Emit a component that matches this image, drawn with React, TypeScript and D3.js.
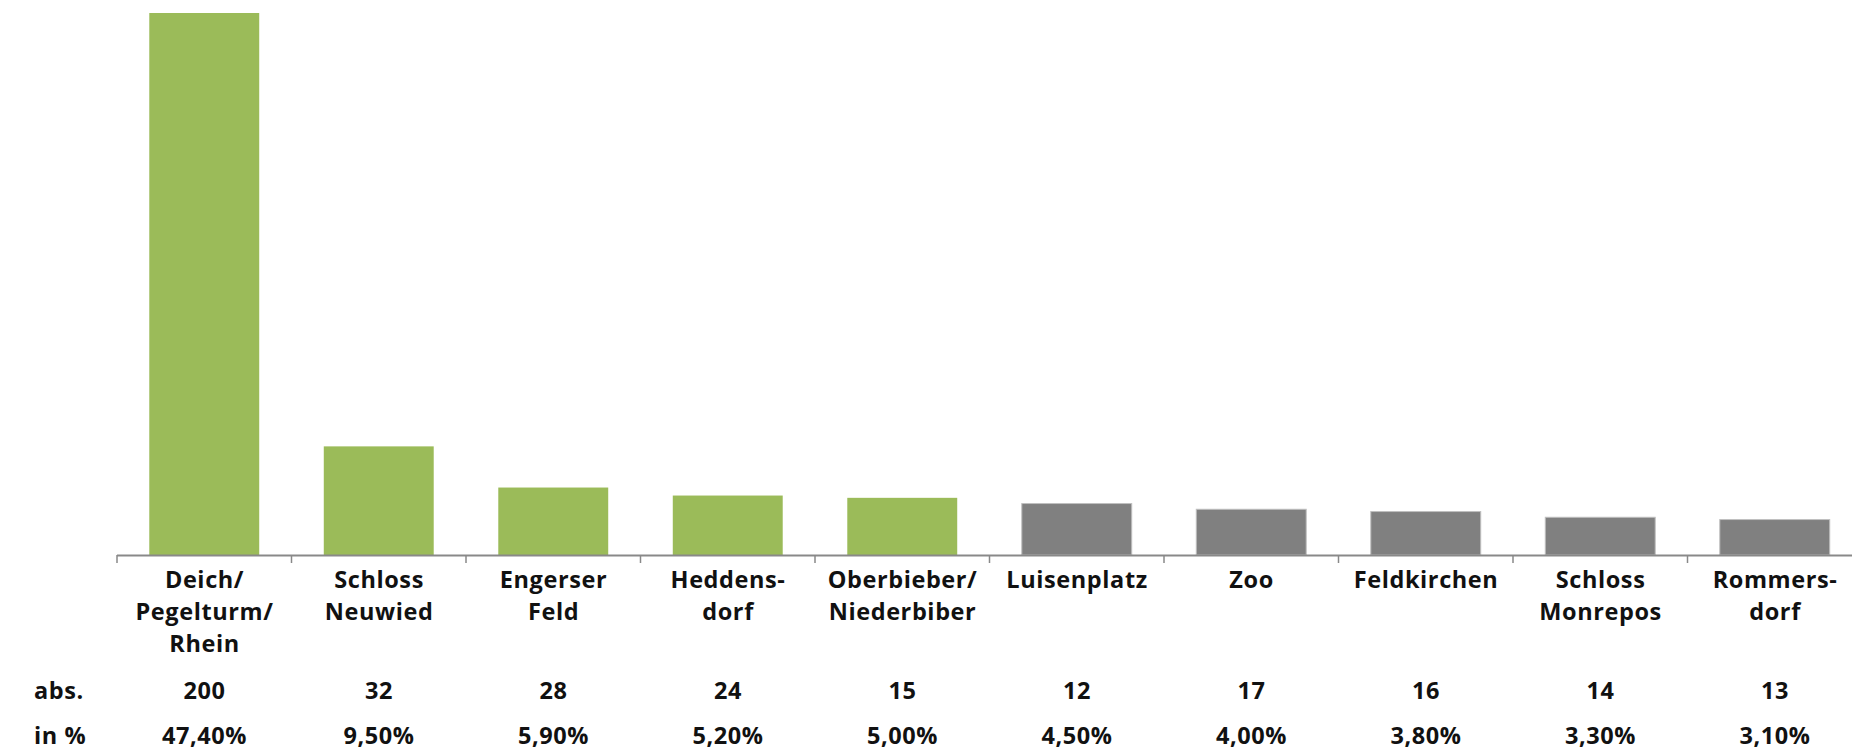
import React from "react";
import * as d3 from "d3";

const categories = [
  "Deich/ Pegelturm/ Rhein",
  "Schloss Neuwied",
  "Engerser Feld",
  "Heddensdorf",
  "Oberbieber/ Niederbiber",
  "Luisenplatz",
  "Zoo",
  "Feldkirchen",
  "Schloss Monrepos",
  "Rommersdorf",
];
const labelLines = [
  ["Deich/", "Pegelturm/", "Rhein"],
  ["Schloss", "Neuwied"],
  ["Engerser", "Feld"],
  ["Heddens-", "dorf"],
  ["Oberbieber/", "Niederbiber"],
  ["Luisenplatz"],
  ["Zoo"],
  ["Feldkirchen"],
  ["Schloss", "Monrepos"],
  ["Rommers-", "dorf"],
];
const absValues = [200, 32, 28, 24, 15, 12, 17, 16, 14, 13];
const pctValues = [47.4, 9.5, 5.9, 5.2, 5.0, 4.5, 4.0, 3.8, 3.3, 3.1];
const highlighted = [true, true, true, true, true, false, false, false, false, false];
const rowLabels = ["abs.", "in %"];

const W = 1852;
const H = 751;
const FONT = "'Open Sans', Lato, sans-serif";
const FS = 23.5;
const LS = 0.6;

export default function App() {
  const x = d3
    .scaleBand<string>()
    .domain(categories)
    .range([117, 1862])
    .paddingInner(0.37)
    .paddingOuter(0.185);
  const y = d3.scaleLinear().domain([0, 47.4]).range([555, 13]);
  const step = x.step();
  const gap = (step * 0.37) / 2;
  const fmt = (v: number) => v.toFixed(2).replace(".", ",") + "%";

  return (
    <svg
      width={W}
      height={H}
      style={{ position: "absolute", left: 0, top: 0, display: "block" }}
    >
      <rect x={0} y={0} width={W} height={H} fill="#fff" />
      {categories.map((c, i) => {
        const v = pctValues[i];
        return (
          <rect
            key={c}
            x={x(c)}
            y={y(v)}
            width={x.bandwidth()}
            height={y(0) - y(v)}
            fill={highlighted[i] ? "#9BBB59" : "#808080"}
            stroke={highlighted[i] ? "none" : "#bfbfbf"}
            strokeWidth={1}
          />
        );
      })}
      <line x1={117} x2={W} y1={555.5} y2={555.5} stroke="#898989" strokeWidth={2} />
      {categories.map((c, i) => {
        const tx = (x(c) as number) - gap;
        return (
          <line key={"t" + i} x1={tx} x2={tx} y1={555} y2={563} stroke="#898989" strokeWidth={1.5} />
        );
      })}
      {categories.map((c, i) => {
        const cx = (x(c) as number) + x.bandwidth() / 2 + LS / 2;
        return (
          <g
            key={"l" + i}
            fontFamily={FONT}
            fontWeight={700}
            fontSize={FS}
            letterSpacing={LS}
            fill="#111"
            textAnchor="middle"
          >
            {labelLines[i].map((ln, j) => (
              <text key={j} x={cx} y={588 + j * 31.8}>
                {ln}
              </text>
            ))}
            <text x={cx} y={699}>{absValues[i]}</text>
            <text x={cx} y={744}>{fmt(pctValues[i])}</text>
          </g>
        );
      })}
      <g fontFamily={FONT} fontWeight={700} fontSize={FS} letterSpacing={LS} fill="#111">
        <text x={34} y={699}>{rowLabels[0]}</text>
        <text x={34} y={744}>{rowLabels[1]}</text>
      </g>
    </svg>
  );
}
